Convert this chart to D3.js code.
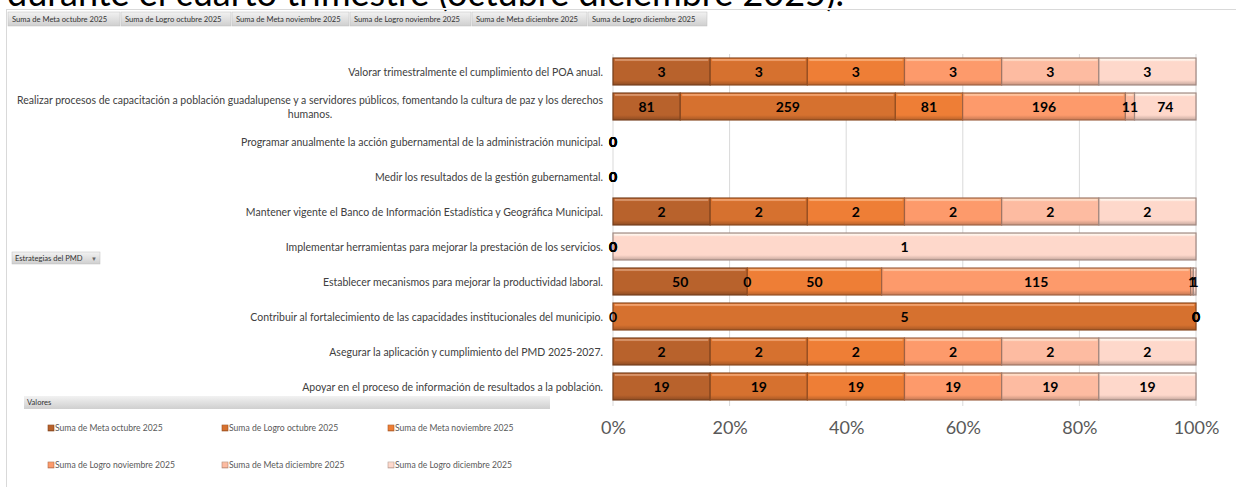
<!DOCTYPE html>
<html>
<head>
<meta charset="utf-8">
<script src="https://cdn.jsdelivr.net/npm/d3@7"></script>
<style>
  body { margin: 0; background: #fff; }
  svg { display: block; }
</style>
</head>
<body>
<div class="chart"></div>
<script>
const width = 1236;
const height = 487;

// data
const categories = [
    "Valorar trimestralmente el cumplimiento del POA anual.",
    "Realizar procesos de capacitación a población guadalupense y a servidores públicos, fomentando la cultura de paz y los derechos|humanos.",
    "Programar anualmente la acción gubernamental de la administración municipal.",
    "Medir los resultados de la gestión gubernamental.",
    "Mantener vigente el Banco de Información Estadística y Geográfica Municipal.",
    "Implementar herramientas para mejorar la prestación de los servicios.",
    "Establecer mecanismos para mejorar la productividad laboral.",
    "Contribuir al fortalecimiento de las capacidades institucionales del municipio.",
    "Asegurar la aplicación y cumplimiento del PMD 2025-2027.",
    "Apoyar en el proceso de información de resultados a la población."
];
const seriesNames = [
    "Suma de Meta octubre 2025",
    "Suma de Logro octubre 2025",
    "Suma de Meta noviembre 2025",
    "Suma de Logro noviembre 2025",
    "Suma de Meta diciembre 2025",
    "Suma de Logro diciembre 2025"
];
const metaOct  = [3, 81,  0, 0, 2, 0, 50, 0, 2, 19];
const logroOct = [3, 259, 0, 0, 2, 0, 0,  5, 2, 19];
const metaNov  = [3, 81,  0, 0, 2, 0, 50, 0, 2, 19];
const logroNov = [3, 196, 0, 0, 2, 0, 115, 0, 2, 19];
const metaDic  = [3, 11,  0, 0, 2, 0, 1,  0, 2, 19];
const logroDic = [3, 74,  0, 0, 2, 1, 1,  0, 2, 19];
const tickValues = [0, 0.2, 0.4, 0.6, 0.8, 1];
const colors = ["#b8622c", "#d6712f", "#ee7e36", "#fd9a6b", "#fdbba1", "#fed8cb"];

const allSeries = [metaOct, logroOct, metaNov, logroNov, metaDic, logroDic];
const rows = categories.map((c, i) => {
    let r = { cat: c };
    allSeries.forEach((s, k) => r["s" + k] = s[i]);
    return r;
});
const keys = seriesNames.map((d, k) => "s" + k);

let svg = d3.select(".chart").append("svg")
    .attr("width", width).attr("height", height)
    .style("font-family", "Lato, 'Open Sans', sans-serif");

// title remnant, cut off at the top
svg.append("text")
    .attr("x", 7).attr("y", 6)
    .attr("font-size", 36)
    .attr("fill", "#000")
    .text("durante el cuarto trimestre (octubre diciembre 2025).");

// chart area frame
svg.append("rect").attr("x", 0).attr("y", 8).attr("width", width).attr("height", 2).attr("fill", "#fff");
svg.append("line").attr("x1", 6).attr("x2", width).attr("y1", 9.5).attr("y2", 9.5)
    .attr("stroke", "#d9d9d9");
svg.append("line").attr("x1", 6.5).attr("x2", 6.5).attr("y1", 9).attr("y2", height)
    .attr("stroke", "#d9d9d9");

let defs = svg.append("defs");
let btnGrad = defs.append("linearGradient").attr("id", "btn").attr("x1", 0).attr("x2", 0).attr("y1", 0).attr("y2", 1);
btnGrad.append("stop").attr("offset", "0%").attr("stop-color", "#f2f2f2");
btnGrad.append("stop").attr("offset", "100%").attr("stop-color", "#cfcfcf");

colors.forEach((c, k) => {
    let g = defs.append("linearGradient").attr("id", "bev" + k)
        .attr("x1", 0).attr("x2", 0).attr("y1", 0).attr("y2", 1);
    g.append("stop").attr("offset", "0%").attr("stop-color", d3.color(c).brighter(0.5));
    g.append("stop").attr("offset", "14%").attr("stop-color", c);
    g.append("stop").attr("offset", "82%").attr("stop-color", c);
    g.append("stop").attr("offset", "100%").attr("stop-color", d3.color(c).darker(0.7));
});

// pivot field buttons on top
const btnEdges = [8, 121, 232, 350, 472, 588, 708];
let btns = svg.append("g");
seriesNames.forEach((n, k) => {
    btns.append("rect")
        .attr("x", btnEdges[k]).attr("y", 12)
        .attr("width", btnEdges[k + 1] - btnEdges[k] - 1).attr("height", 14)
        .attr("fill", "url(#btn)").attr("stroke", "#bfbfbf").attr("stroke-width", 0.5);
    btns.append("text")
        .attr("x", btnEdges[k] + 4).attr("y", 22)
        .attr("font-size", 7.6).attr("fill", "#333")
        .text(n);
});

// Estrategias del PMD button
svg.append("rect").attr("x", 12).attr("y", 252).attr("width", 88).attr("height", 12)
    .attr("fill", "url(#btn)").attr("stroke", "#bfbfbf").attr("stroke-width", 0.5);
svg.append("text").attr("x", 15).attr("y", 261).attr("font-size", 7.6).attr("fill", "#333")
    .text("Estrategias del PMD");
svg.append("text").attr("x", 91).attr("y", 261).attr("font-size", 6).attr("fill", "#666").text("▼");

// Valores bar
svg.append("rect").attr("x", 24).attr("y", 396).attr("width", 526).attr("height", 13)
    .attr("fill", "url(#btn)");
svg.append("text").attr("x", 27).attr("y", 405).attr("font-size", 7.6).attr("fill", "#333")
    .text("Valores");

// scales
let x = d3.scaleLinear().domain([0, 1]).range([613, 1196]);
let y = d3.scaleBand().domain(categories).range([54, 404]).paddingInner(0.23).paddingOuter(0.115);

// gridlines
svg.append("g").selectAll("line")
    .data(tickValues)
    .enter().append("line")
    .attr("x1", d => x(d)).attr("x2", d => x(d))
    .attr("y1", 54).attr("y2", 406)
    .attr("stroke", "#d9d9d9");

// x axis labels
let xAxis = d3.axisBottom(x).tickValues(tickValues).tickFormat(d3.format(".0%")).tickSize(0);
let ax = svg.append("g").attr("transform", "translate(0,418)").call(xAxis);
ax.select(".domain").remove();
ax.selectAll("text").attr("font-size", 18).attr("fill", "#595959")
    .style("font-family", "Lato, 'Open Sans', sans-serif");

// category labels
let cats = svg.append("g");
categories.forEach(c => {
    let lines = c.split("|");
    let cy = y(c) + y.bandwidth() / 2;
    let t = cats.append("text")
        .attr("font-size", 10.5).attr("fill", "#404040");
    lines.forEach((l, i) => {
        t.append("tspan").attr("x", 603)
            .attr("y", cy + 4 + (i - (lines.length - 1) / 2) * 14)
            .text(l);
    });
    if (lines.length > 1) {
        let spans = t.selectAll("tspan");
        spans.each(function() {
            if (this.getComputedTextLength() > 586) {
                d3.select(this).attr("textLength", 586).attr("lengthAdjust", "spacingAndGlyphs");
            }
        });
        let w = d3.max(spans.nodes(), n => Math.min(586, n.getComputedTextLength()));
        t.attr("text-anchor", "middle");
        spans.attr("x", 603 - w / 2);
    } else {
        t.attr("text-anchor", "end");
    }
});

// stacked bars, 100%
let stack = d3.stack().keys(keys).offset(d3.stackOffsetExpand);
let stacked = stack(rows);

let layers = svg.append("g").selectAll("g")
    .data(stacked)
    .enter().append("g");

layers.selectAll("rect.seg")
    .data((d, k) => d.map(p => ({ p: p, k: k, cat: p.data.cat })))
    .enter().append("rect")
    .attr("class", "seg")
    .filter(d => d.p[1] - d.p[0] > 0)
    .attr("x", d => x(d.p[0]))
    .attr("y", d => y(d.cat))
    .attr("width", d => x(d.p[1]) - x(d.p[0]))
    .attr("height", y.bandwidth())
    .attr("fill", d => "url(#bev" + d.k + ")")
    .attr("stroke", d => d3.color(colors[d.k]).darker(1.3))
    .attr("stroke-width", 1.2);

// top highlight line inside each segment
layers.selectAll("line.hi")
    .data((d, k) => d.filter(p => p[1] - p[0] > 0))
    .enter().append("line")
    .attr("x1", p => x(p[0]) + 2).attr("x2", p => x(p[1]) - 2)
    .attr("y1", p => y(p.data.cat) + 2).attr("y2", p => y(p.data.cat) + 2)
    .attr("stroke", "#fff").attr("stroke-opacity", 0.35).attr("stroke-width", 1.5);

// data labels
let labels = svg.append("g");
stacked.forEach((layer, k) => {
    layer.forEach(p => {
        labels.append("text")
            .attr("x", x((p[0] + p[1]) / 2))
            .attr("y", y(p.data.cat) + y.bandwidth() / 2 + 5)
            .attr("text-anchor", "middle")
            .attr("font-size", 14).attr("font-weight", "bold").attr("fill", "#000")
            .text(p.data["s" + k]);
    });
});

// legend
const legendX = [48, 222, 388];
const legendY = [428, 465];
let legend = svg.append("g");
seriesNames.forEach((n, k) => {
    let lx = legendX[k % 3], ly = legendY[Math.floor(k / 3)];
    legend.append("rect").attr("x", lx).attr("y", ly - 3).attr("width", 6).attr("height", 6)
        .attr("fill", "url(#bev" + k + ")")
        .attr("stroke", d3.color(colors[k]).darker(1)).attr("stroke-width", 0.6);
    legend.append("text").attr("x", lx + 7).attr("y", ly + 3)
        .attr("font-size", 8.6).attr("fill", "#595959").text(n);
});
</script>
</body>
</html>
